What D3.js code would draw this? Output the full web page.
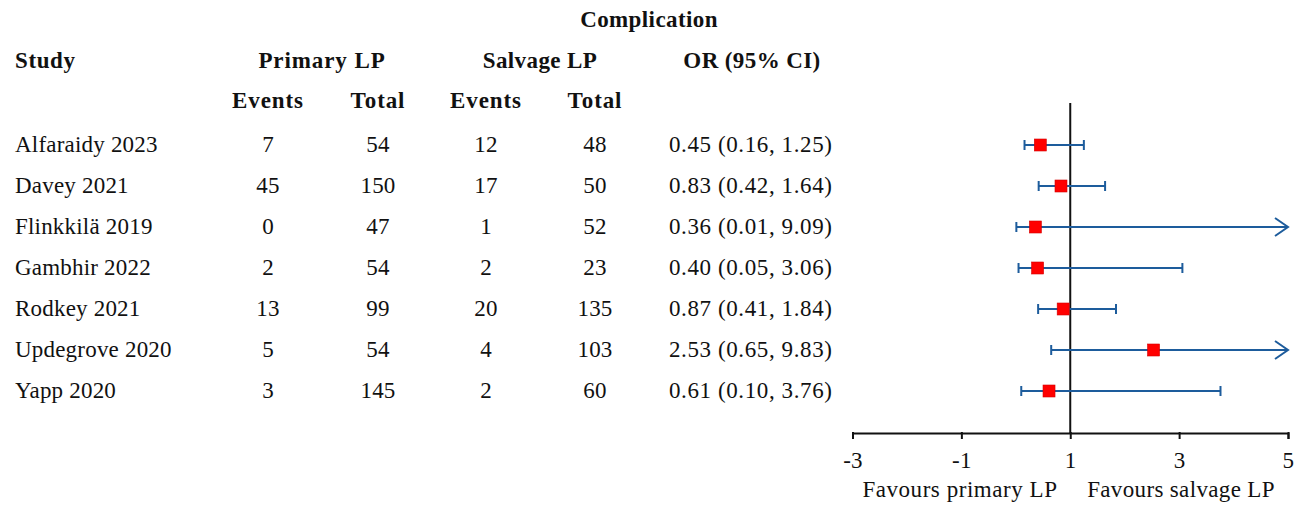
<!DOCTYPE html>
<html>
<head>
<meta charset="utf-8">
<script src="https://cdn.jsdelivr.net/npm/d3@7"></script>
<style>
  html, body { margin: 0; padding: 0; background: #fff; }
  svg { display: block; }
  text { font-family: "Liberation Serif", "Times New Roman", serif; fill: #111; }
</style>
</head>
<body>
<svg id="chart" width="1301" height="507"></svg>
<script>
// Study-level data
const studies = ["Alfaraidy 2023", "Davey 2021", "Flinkkilä 2019", "Gambhir 2022", "Rodkey 2021", "Updegrove 2020", "Yapp 2020"];
const primaryEvents = [7, 45, 0, 2, 13, 5, 3];
const primaryTotal = [54, 150, 47, 54, 99, 54, 145];
const salvageEvents = [12, 17, 1, 2, 20, 4, 2];
const salvageTotal = [48, 50, 52, 23, 135, 103, 60];
const orValue = [0.45, 0.83, 0.36, 0.40, 0.87, 2.53, 0.61];
const ciLower = [0.16, 0.42, 0.01, 0.05, 0.41, 0.65, 0.10];
const ciUpper = [1.25, 1.64, 9.09, 3.06, 1.84, 9.83, 3.76];
const axisTicks = [-3, -1, 1, 3, 5];

const svg = d3.select("#chart");
const FS = 23;
const lineColor = "#1d5c9c";

const x = d3.scaleLinear().domain([-3, 5]).range([852.5, 1288]);
const y = d3.scalePoint().domain(studies).range([145, 391]);
const axisY = 433;

// Column headers
const header = svg.append("g").attr("font-weight", "bold").attr("font-size", FS).attr("letter-spacing", 0.9);
header.append("text").attr("x", 649).attr("y", 27).attr("text-anchor", "middle").attr("letter-spacing", 0.4).text("Complication");
header.append("text").attr("x", 15).attr("y", 68).attr("letter-spacing", 0.6).text("Study");
header.append("text").attr("x", 322).attr("y", 68).attr("text-anchor", "middle").text("Primary LP");
header.append("text").attr("x", 540).attr("y", 68).attr("text-anchor", "middle").attr("letter-spacing", 0.4).text("Salvage LP");
header.append("text").attr("x", 752).attr("y", 68).attr("text-anchor", "middle").attr("letter-spacing", 0.4).text("OR (95% CI)");
[[268, "Events"], [378, "Total"], [486, "Events"], [595, "Total"]].forEach(([cx, t]) => {
  header.append("text").attr("x", cx).attr("y", 108).attr("text-anchor", "middle").text(t);
});

// Table rows
const fmt = d3.format(".2f");
const rows = svg.append("g").attr("font-size", FS).attr("letter-spacing", 0.2);
studies.forEach((s, i) => {
  const by = y(s) + 7;
  rows.append("text").attr("x", 15).attr("y", by).text(s);
  rows.append("text").attr("x", 268).attr("y", by).attr("text-anchor", "middle").text(primaryEvents[i]);
  rows.append("text").attr("x", 378).attr("y", by).attr("text-anchor", "middle").text(primaryTotal[i]);
  rows.append("text").attr("x", 486).attr("y", by).attr("text-anchor", "middle").text(salvageEvents[i]);
  rows.append("text").attr("x", 595).attr("y", by).attr("text-anchor", "middle").text(salvageTotal[i]);
  rows.append("text").attr("x", 669).attr("y", by).attr("letter-spacing", 0.6)
    .text(`${fmt(orValue[i])} (${fmt(ciLower[i])}, ${fmt(ciUpper[i])})`);
});

// Reference line at OR = 1
svg.append("line")
  .attr("x1", x(1)).attr("x2", x(1))
  .attr("y1", 103).attr("y2", axisY)
  .attr("stroke", "#111").attr("stroke-width", 2);

// Confidence intervals
const [xmin, xmax] = x.domain();
const ci = svg.append("g").attr("stroke", lineColor).attr("stroke-width", 2).attr("fill", "none");
studies.forEach((s, i) => {
  const cy = y(s);
  const lo = Math.max(ciLower[i], xmin);
  const hi = Math.min(ciUpper[i], xmax);
  ci.append("line").attr("x1", x(lo)).attr("x2", x(hi)).attr("y1", cy).attr("y2", cy);
  ci.append("line").attr("x1", x(lo)).attr("x2", x(lo)).attr("y1", cy - 5).attr("y2", cy + 5);
  if (ciUpper[i] > xmax) {
    ci.append("path")
      .attr("d", `M${x(hi) - 13},${cy - 9}L${x(hi)},${cy}L${x(hi) - 13},${cy + 9}`);
  } else {
    ci.append("line").attr("x1", x(hi)).attr("x2", x(hi)).attr("y1", cy - 5).attr("y2", cy + 5);
  }
});

// Point estimates
const sq = 12;
svg.append("g").selectAll("rect")
  .data(studies)
  .join("rect")
  .attr("x", (s, i) => x(orValue[i]) - sq / 2)
  .attr("y", s => y(s) - sq / 2)
  .attr("width", sq).attr("height", sq)
  .attr("fill", "#ff0000")
  .attr("stroke", "#d40000").attr("stroke-width", 0.6);

// Horizontal axis
const axis = d3.axisBottom(x).tickValues(axisTicks).tickSize(6).tickSizeOuter(6).tickPadding(13)
  .tickFormat(d => String(d));
const ax = svg.append("g").attr("transform", `translate(0,${axisY})`).call(axis);
ax.select(".domain").attr("stroke", "#111").attr("stroke-width", 2);
ax.selectAll(".tick line").attr("stroke", "#111").attr("stroke-width", 2).attr("y1", -1);
ax.selectAll(".tick text").attr("font-family", "Liberation Serif, Times New Roman, serif")
  .attr("font-size", 23).attr("letter-spacing", 0.3).attr("fill", "#111");

// Direction labels
svg.append("text").attr("x", 960).attr("y", 497).attr("text-anchor", "middle")
  .attr("font-size", FS).attr("letter-spacing", 0.55).text("Favours primary LP");
svg.append("text").attr("x", 1181).attr("y", 497).attr("text-anchor", "middle")
  .attr("font-size", FS).attr("letter-spacing", 0.35).text("Favours salvage LP");
</script>
</body>
</html>
